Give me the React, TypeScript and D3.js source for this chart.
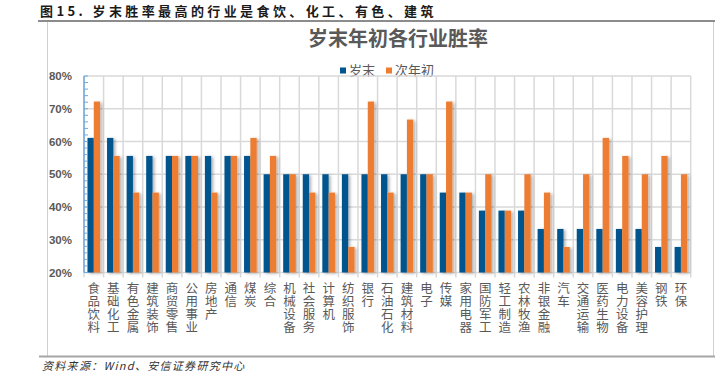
import React from "react";
import * as d3 from "d3";

const categories = [
  "食品饮料", "基础化工", "有色金属", "建筑装饰", "商贸零售", "公用事业", "房地产", "通信", "煤炭", "综合",
  "机械设备", "社会服务", "计算机", "纺织服饰", "银行", "石油石化", "建筑材料", "电子", "传媒", "家用电器",
  "国防军工", "轻工制造", "农林牧渔", "非银金融", "汽车", "交通运输", "医药生物", "电力设备", "美容护理", "钢铁", "环保",
];
const yearEnd = [
  61.1, 61.1, 55.6, 55.6, 55.6, 55.6, 55.6, 55.6, 55.6, 50,
  50, 50, 50, 50, 50, 50, 50, 50, 44.4, 44.4,
  38.9, 38.9, 38.9, 33.3, 33.3, 33.3, 33.3, 33.3, 33.3, 27.8, 27.8,
];
const nextYearStart = [
  72.2, 55.6, 44.4, 44.4, 55.6, 55.6, 44.4, 55.6, 61.1, 55.6,
  50, 44.4, 44.4, 27.8, 72.2, 44.4, 66.7, 50, 72.2, 44.4,
  50, 38.9, 50, 44.4, 27.8, 50, 61.1, 55.6, 50, 55.6, 50,
];
const yTicks = [20, 30, 40, 50, 60, 70, 80];
const seriesNames = ["岁末", "次年初"];
const seriesColors = ["#00558F", "#ED7D31"];

const W = 722;
const H = 381;
const plot = { left: 84, right: 690.7, top: 76, bottom: 272.5 };

export default function App() {
  const x = d3.scaleBand<string>().domain(categories).range([plot.left, plot.right]).padding(0);
  const inner = d3
    .scaleBand<string>()
    .domain(seriesNames)
    .range([0, x.bandwidth()])
    .paddingInner(0)
    .paddingOuter(0.55);
  const y = d3.scaleLinear().domain([20, 80]).range([plot.bottom, plot.top]);
  const minor = d3.range(20, 80.01, 2);
  const boundaries = categories.map((c) => x(c) as number).concat([plot.right]);
  const cjk = "'Noto Sans CJK SC', 'Noto Sans', sans-serif";
  const series = [yearEnd, nextYearStart];

  return (
    <svg
      width={W}
      height={H}
      style={{ position: "absolute", left: 0, top: 0, background: "#fff" }}
      xmlns="http://www.w3.org/2000/svg"
    >
      <defs>
        <filter id="sh" x="-50%" y="-10%" width="200%" height="130%">
          <feDropShadow dx="2" dy="1" stdDeviation="1.4" floodColor="#000" floodOpacity="0.3" />
        </filter>
      </defs>
      <rect x={0} y={0} width={W} height={H} fill="#fff" />
      {/* header */}
      <text x={40} y={16} fontFamily={cjk} fontSize={13} fontWeight={700} fill="#1a1a1a" letterSpacing={3.4}>
        图15. 岁末胜率最高的行业是食饮、化工、有色、建筑
      </text>
      {/* frame */}
      <rect x={47.5} y={21} width={666} height={335.5} fill="none" stroke="#d0d0d0" strokeWidth={1} />
      <line x1={38} x2={715} y1={21} y2={21} stroke="#8c8c8c" strokeWidth={2} />
      <line x1={39} x2={715} y1={356.5} y2={356.5} stroke="#a6a6a6" strokeWidth={2} />
      <text x={42} y={369.5} fontFamily={cjk} fontSize={11} fontStyle="italic" fill="#333" letterSpacing={1.3}>
        资料来源：Wind、安信证券研究中心
      </text>

      {/* chart title */}
      <text x={398} y={46} textAnchor="middle" fontFamily={cjk} fontSize={20} fontWeight={700} fill="#595959">
        岁末年初各行业胜率
      </text>
      {/* legend */}
      {seriesNames.map((s, i) => {
        const lx = i === 0 ? 340 : 386;
        return (
          <g key={s}>
            <rect x={lx} y={67.5} width={6} height={6} fill={seriesColors[i]} />
            <text x={lx + 9} y={75} fontFamily={cjk} fontSize={13} fill="#595959">
              {s}
            </text>
          </g>
        );
      })}

      {/* gridlines */}
      {yTicks.map((t) => (
        <line key={t} x1={plot.left} x2={plot.right} y1={y(t)} y2={y(t)} stroke="#d9d9d9" strokeWidth={1.5} />
      ))}
      {boundaries.map((bx, i) => (
        <line key={i} x1={bx} x2={bx} y1={plot.top} y2={plot.bottom + 5} stroke="#d9d9d9" strokeWidth={1.5} />
      ))}

      {/* bars */}
      <g filter="url(#sh)">
        {categories.map((c, ci) =>
          series.map((vals, si) => (
            <rect
              key={c + si}
              x={(x(c) as number) + (inner(seriesNames[si]) as number)}
              y={y(vals[ci])}
              width={inner.bandwidth()}
              height={y(20) - y(vals[ci])}
              fill={seriesColors[si]}
            />
          ))
        )}
      </g>

      {/* left axis */}
      <line x1={plot.left} x2={plot.left} y1={plot.top} y2={plot.bottom} stroke="#6fa8dc" strokeWidth={1.5} />
      {minor.map((m) => (
        <line key={m} x1={plot.left} x2={plot.left + 4} y1={y(m)} y2={y(m)} stroke="#6fa8dc" strokeWidth={1} />
      ))}
      {yTicks.map((t) => (
        <text
          key={t}
          x={72}
          y={y(t) + 4}
          textAnchor="end"
          fontFamily="'Liberation Sans', Arial, sans-serif"
          fontSize={11.5}
          fontWeight={700}
          fill="#595959"
        >
          {t}%
        </text>
      ))}

      {/* x labels */}
      {categories.map((c) => {
        const cx = (x(c) as number) + x.bandwidth() / 2;
        return (
          <g key={c}>
            {Array.from(c).map((ch, k) => (
              <text key={k} x={cx} y={292.5 + k * 13.3} textAnchor="middle" fontFamily={cjk} fontSize={12.5} fill="#595959">
                {ch}
              </text>
            ))}
          </g>
        );
      })}
    </svg>
  );
}
